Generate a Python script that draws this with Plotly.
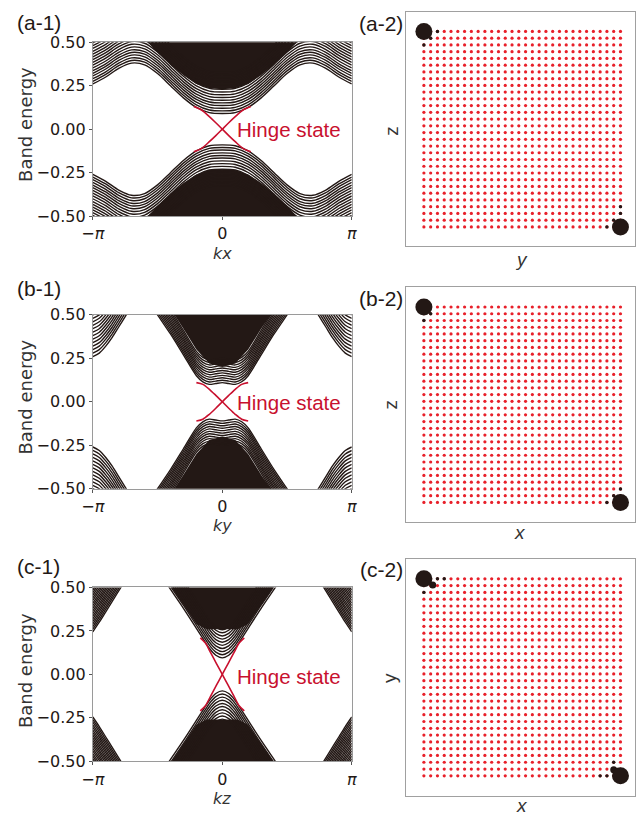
import plotly.graph_objects as go

W, H = 642, 829
BAND = '#231815'
HINGE = '#c8102e'
DOT_RED = '#e8202a'

# ---------------- data (k in units of pi, energies) ----------------
# (a-1) kx : one continuous band family
A_K = [-1, -0.9, -0.8, -0.7, -0.6, -0.5, -0.4, -0.3, -0.2, -0.1, 0,
       0.1, 0.2, 0.3, 0.4, 0.5, 0.6, 0.7, 0.8, 0.9, 1]
A_CB = [0.26, 0.30, 0.35, 0.38, 0.37, 0.32, 0.25, 0.18, 0.125, 0.095, 0.09,
        0.095, 0.125, 0.18, 0.25, 0.32, 0.37, 0.38, 0.35, 0.30, 0.26]
A_OFF = [0, 0.015, 0.03, 0.046, 0.061, 0.076, 0.092, 0.108, 0.124, 0.14,
         0.156, 0.172, 0.188, 0.204, 0.22, 0.236]
A_FILL_K = [-0.6, -0.5, -0.4, -0.3, -0.2, -0.1, 0, 0.1, 0.2, 0.3, 0.4, 0.5, 0.6]
A_FILL_E = [0.52, 0.44, 0.37, 0.31, 0.26, 0.235, 0.23, 0.235, 0.26, 0.31, 0.37, 0.44, 0.52]
A_HK = [-0.22, -0.16, -0.1, -0.05, 0, 0.05, 0.1, 0.16, 0.22]
A_HE = [0.13, 0.11, 0.072, 0.037, 0, -0.037, -0.072, -0.11, -0.13]

# (b-1) ky : central family + zone-edge family
B_KC = [-0.6, -0.5, -0.4, -0.3, -0.2, -0.15, -0.1, -0.05, 0,
        0.05, 0.1, 0.15, 0.2, 0.3, 0.4, 0.5, 0.6]
B_CBC = [0.61, 0.5, 0.39, 0.27, 0.15, 0.115, 0.1, 0.105, 0.11,
         0.105, 0.1, 0.115, 0.15, 0.27, 0.39, 0.5, 0.61]
B_OFFC = [0, 0.014, 0.028, 0.042, 0.056, 0.07, 0.084, 0.098, 0.112, 0.126, 0.14]
B_FILL_K = [-0.45, -0.37, -0.3, -0.2, -0.1, 0, 0.1, 0.2, 0.3, 0.37, 0.45]
B_FILL_E = [0.58, 0.5, 0.42, 0.3, 0.22, 0.2, 0.22, 0.3, 0.42, 0.5, 0.58]
B_KE = [-1, -0.95, -0.9, -0.85, -0.8, -0.75, -0.7]
B_CBE = [0.26, 0.28, 0.32, 0.37, 0.43, 0.49, 0.55]
B_OFFE = [0, 0.02, 0.04, 0.06, 0.08, 0.1, 0.12, 0.14, 0.16, 0.18, 0.2, 0.22, 0.24]
B_HK = [-0.2, -0.15, -0.1, -0.05, 0, 0.05, 0.1, 0.15, 0.2]
B_HE = [0.11, 0.1, 0.072, 0.037, 0, -0.037, -0.072, -0.1, -0.11]

# (c-1) kz : central family + zone-edge family
C_KC = [-0.5, -0.41, -0.3, -0.2, -0.14, -0.1, -0.05, 0,
        0.05, 0.1, 0.14, 0.2, 0.3, 0.41, 0.5]
C_CBC = [0.6, 0.5, 0.38, 0.265, 0.195, 0.15, 0.11, 0.095,
         0.11, 0.15, 0.195, 0.265, 0.38, 0.5, 0.6]
C_OFFC = [0, 0.018, 0.036, 0.054, 0.072, 0.09, 0.108, 0.126, 0.144, 0.162]
C_FILL_K = [-0.45, -0.4, -0.3, -0.2, -0.12, 0, 0.12, 0.2, 0.3, 0.4, 0.45]
C_FILL_E = [0.56, 0.51, 0.4, 0.29, 0.26, 0.26, 0.26, 0.29, 0.4, 0.51, 0.56]
C_KE = [-1, -0.95, -0.9, -0.85, -0.8, -0.75]
C_CBE = [0.245, 0.3, 0.36, 0.42, 0.48, 0.54]
C_OFFE = [0, 0.015, 0.03, 0.045, 0.06, 0.075, 0.09, 0.105, 0.12, 0.135, 0.15,
          0.165, 0.18, 0.195, 0.21, 0.225, 0.24, 0.255]
C_HK = [-0.17, -0.13, -0.09, -0.045, 0, 0.045, 0.09, 0.13, 0.17]
C_HE = [0.21, 0.18, 0.125, 0.062, 0, -0.062, -0.125, -0.18, -0.21]

# lattice panels
N_SITES = 30
BIG_SITES = [(0, 29), (29, 0)]
A2_DARK = [(2, 29), (1, 28), (0, 27), (29, 2), (29, 3), (28, 1), (27, 0)]
B2_DARK = [(1, 28), (0, 27), (29, 2), (28, 1), (27, 0)]
C2_DARK = [(2, 29), (3, 29), (0, 27), (28, 2), (27, 0), (26, 0)]
C2_MID = [(1.3, 28.1), (28.0, 0.9)]

XT_TEXT = ['\u2212<i>\u03c0</i>', '0', '<i>\u03c0</i>']
YT_VALS = [-0.5, -0.25, 0, 0.25, 0.5]
YT_TEXT = ['\u22120.50', '\u22120.25', '0.00', '0.25', '0.50']

# ---------------- helpers ----------------
def px(x):
    return x / W


def py(y):
    return 1 - y / H


fig = go.Figure()


def family(xa, ya, k, base, offsets, mirror=False):
    for sign in (1, -1):
        xs, ys = [], []
        for d in offsets:
            xs += list(k) + [None]
            ys += [sign * (b + d) for b in base] + [None]
            if mirror:
                xs += [-v for v in k] + [None]
                ys += [sign * (b + d) for b in base] + [None]
        fig.add_trace(go.Scatter(x=xs, y=ys, xaxis=xa, yaxis=ya, mode='lines',
                                 line=dict(color=BAND, width=1.4, shape='spline', smoothing=0.8),
                                 hoverinfo='skip', showlegend=False))


def fill(xa, ya, k, e):
    for sign in (1, -1):
        xs = list(k) + [k[-1], k[0], k[0]]
        ys = [sign * v for v in e] + [sign * 0.7, sign * 0.7, sign * e[0]]
        fig.add_trace(go.Scatter(x=xs, y=ys, xaxis=xa, yaxis=ya, mode='lines',
                                 fill='toself', fillcolor=BAND, line=dict(width=0, color=BAND),
                                 hoverinfo='skip', showlegend=False))


def hinge(xa, ya, k, e):
    for sign in (1, -1):
        fig.add_trace(go.Scatter(x=k, y=[sign * v for v in e], xaxis=xa, yaxis=ya, mode='lines',
                                 line=dict(color=HINGE, width=1.6, shape='spline', smoothing=0.8),
                                 hoverinfo='skip', showlegend=False))


def lattice(xa, ya, dark, mid=()):
    xs, ys = [], []
    for i in range(N_SITES):
        for j in range(N_SITES):
            xs.append(i)
            ys.append(j)
    fig.add_trace(go.Scatter(x=xs, y=ys, xaxis=xa, yaxis=ya, mode='markers',
                             marker=dict(color=DOT_RED, size=3.2, line=dict(width=0)),
                             hoverinfo='skip', showlegend=False))
    fig.add_trace(go.Scatter(x=[p[0] for p in dark], y=[p[1] for p in dark], xaxis=xa, yaxis=ya,
                             mode='markers', marker=dict(color=BAND, size=3.4, line=dict(width=0)),
                             hoverinfo='skip', showlegend=False))
    if mid:
        fig.add_trace(go.Scatter(x=[p[0] for p in mid], y=[p[1] for p in mid], xaxis=xa, yaxis=ya,
                                 mode='markers', marker=dict(color=BAND, size=7, line=dict(width=0)),
                                 hoverinfo='skip', showlegend=False))
    fig.add_trace(go.Scatter(x=[p[0] for p in BIG_SITES], y=[p[1] for p in BIG_SITES],
                             xaxis=xa, yaxis=ya, mode='markers',
                             marker=dict(color=BAND, size=17, line=dict(width=0)),
                             hoverinfo='skip', showlegend=False))


# ---------------- band panels ----------------
fill('x', 'y', A_FILL_K, A_FILL_E)
family('x', 'y', A_K, A_CB, A_OFF)
hinge('x', 'y', A_HK, A_HE)

fill('x3', 'y3', B_FILL_K, B_FILL_E)
family('x3', 'y3', B_KC, B_CBC, B_OFFC)
family('x3', 'y3', B_KE, B_CBE, B_OFFE, mirror=True)
hinge('x3', 'y3', B_HK, B_HE)

fill('x5', 'y5', C_FILL_K, C_FILL_E)
family('x5', 'y5', C_KC, C_CBC, C_OFFC)
family('x5', 'y5', C_KE, C_CBE, C_OFFE, mirror=True)
hinge('x5', 'y5', C_HK, C_HE)

# ---------------- lattice panels ----------------
lattice('x2', 'y2', A2_DARK)
lattice('x4', 'y4', B2_DARK)
lattice('x6', 'y6', C2_DARK, C2_MID)

# ---------------- axes ----------------
LEFT_X = [px(83), px(349)]
RIGHT_X = [px(405), px(640)]
rows_left = [(34, 212), (313, 491), (592, 770)]
rows_right = [(3, 243), (285, 525), (563, 805)]

TICKFONT = dict(family='DejaVu Sans', size=16, color='#231815')
band_x = dict(range=[-1, 1], tickvals=[-1, 0, 1], ticktext=XT_TEXT, showline=True, mirror=True,
              linecolor='#9a9a9a', linewidth=1, ticks='outside', ticklen=3, tickcolor='#555',
              tickfont=TICKFONT, showgrid=False, zeroline=False, domain=LEFT_X)
band_y = dict(range=[-0.5, 0.5], tickvals=YT_VALS, ticktext=YT_TEXT, showline=True, mirror=True,
              linecolor='#9a9a9a', linewidth=1, ticks='outside', ticklen=3, tickcolor='#555',
              tickfont=TICKFONT, showgrid=False, zeroline=False)
lat_x = dict(range=[-2.6, 31.15], showline=True, mirror=True, linecolor='#a0a0a0', linewidth=1.2,
             showticklabels=False, ticks='', showgrid=False, zeroline=False, domain=RIGHT_X)
lat_y = dict(range=[-2.9, 31.9], showline=True, mirror=True, linecolor='#a0a0a0', linewidth=1.2,
             showticklabels=False, ticks='', showgrid=False, zeroline=False)

layout = {}
for r, (t, b) in enumerate(rows_left):
    n = 2 * r + 1
    xs = '' if n == 1 else str(n)
    layout['xaxis' + xs] = dict(band_x, anchor='y' + xs)
    layout['yaxis' + xs] = dict(band_y, anchor='x' + xs, domain=[py(b), py(t)])
for r, (t, b) in enumerate(rows_right):
    n = 2 * r + 2
    xs = str(n)
    layout['xaxis' + xs] = dict(lat_x, anchor='y' + xs)
    layout['yaxis' + xs] = dict(lat_y, anchor='x' + xs, domain=[py(b), py(t)])

# ---------------- annotations ----------------
ann = []


def text(x, y, s, size, color='#231815', family='Liberation Sans', xanchor='center', angle=0):
    ann.append(dict(x=px(x), y=py(y), xref='paper', yref='paper', text=s, showarrow=False,
                    xanchor=xanchor, yanchor='middle', textangle=angle,
                    font=dict(family=family, size=size, color=color)))


PANEL_LABELS = [('(a-1)', 3, 14), ('(b-1)', 3, 286), ('(c-1)', 3, 571)]
PANEL_LABELS2 = [('(a-2)', 404, 15), ('(b-2)', 404, 296), ('(c-2)', 404, 574)]
for s, x, y in PANEL_LABELS:
    text(x, y, s, 21, xanchor='left')
for s, x, y in PANEL_LABELS2:
    text(x, y, s, 21, xanchor='right')

for yc in (118, 397, 677):
    text(14, yc, 'Band energy', 18, family='DejaVu Sans', color='#333', angle=-90)
for s, y in (('kx', 250), ('ky', 529), ('kz', 808)):
    text(216, y, '<i>' + s + '</i>', 16, family='DejaVu Sans', color='#333')
for y in (123, 403, 683):
    text(229, y, 'Hinge state', 20.5, color=HINGE, xanchor='left')

for s, x, y in (('z', 389, 125), ('z', 389, 405), ('y', 388, 685)):
    text(x, y, s, 19, color='#333', angle=-90)
for s, x, y in (('y', 523, 256), ('x', 522, 536), ('x', 524, 815)):
    text(x, y, '<i>' + s + '</i>', 19, color='#333')

fig.update_layout(width=W, height=H, margin=dict(l=0, r=0, t=0, b=0),
                  paper_bgcolor='white', plot_bgcolor='white', showlegend=False,
                  annotations=ann, **layout)

fig.write_html('out.html')
